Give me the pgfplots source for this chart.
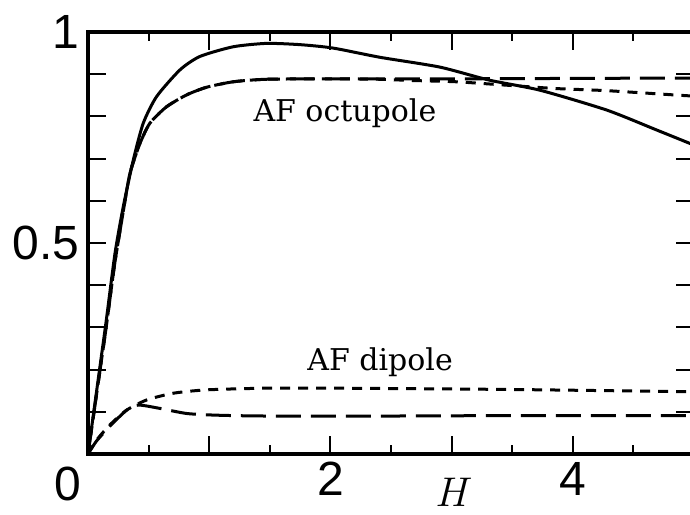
\documentclass[border=0pt]{standalone}
\usepackage{fontspec}
\setmainfont{DejaVu Serif}
\newfontfamily\ticksans{Liberation Sans}
\usepackage{pgfplots}
\pgfplotsset{compat=1.18}

% octupole (solid / long dash / short dash) and dipole (long dash / short dash)
\pgfplotstableread{
x y
0 0
0.05 0.105
0.10 0.21
0.15 0.315
0.223 0.476
0.291 0.586
0.374 0.697
0.456 0.784
0.566 0.847
0.758 0.910
0.923 0.942
1.198 0.965
1.473 0.973
1.75 0.970
2.02 0.962
2.41 0.940
2.90 0.917
3.31 0.886
3.73 0.862
4.28 0.815
4.69 0.768
5.00 0.732
}\octsolid
\pgfplotstableread{
x y
0 0
0.05 0.10
0.10 0.20
0.15 0.30
0.22 0.45
0.291 0.575
0.346 0.665
0.429 0.736
0.511 0.784
0.649 0.823
0.814 0.851
0.978 0.869
1.198 0.882
1.473 0.888
2.02 0.889
3.00 0.889
4.00 0.890
5.00 0.891
}\octlong
\pgfplotstableread{
x y
0 0
0.05 0.10
0.10 0.20
0.15 0.30
0.22 0.45
0.291 0.575
0.346 0.665
0.429 0.736
0.511 0.784
0.649 0.823
0.814 0.851
0.978 0.869
1.198 0.882
1.473 0.888
2.02 0.889
2.40 0.888
2.68 0.885
3.04 0.882
3.45 0.874
3.86 0.866
4.28 0.861
4.83 0.851
5.00 0.848
}\octshort
\pgfplotstableread{
x y
0 0
0.071 0.031
0.181 0.066
0.319 0.104
0.415 0.116
0.594 0.108
0.814 0.096
1.06 0.092
1.473 0.090
2.50 0.090
3.50 0.091
5.00 0.091
}\diplong
\pgfplotstableread{
x y
0 0
0.071 0.033
0.181 0.069
0.319 0.104
0.484 0.128
0.703 0.144
0.978 0.152
1.473 0.156
2.02 0.156
3.45 0.153
4.83 0.148
5.00 0.147
}\dipshort

\begin{document}
\begin{tikzpicture}
\begin{axis}[
    at={(0,0)}, anchor=south west,
    scale only axis,
    width=303pt, height=211pt,
    xmin=0, xmax=5, ymin=0, ymax=1,
    clip mode=individual,
    axis line style={line width=1.8pt},
    xtick={0,1,2,3,4,5},
    xticklabels={,,2,,4,},
    minor xtick={0.5,1.5,2.5,3.5,4.5},
    ytick={0,0.1,0.2,0.3,0.4,0.5,0.6,0.7,0.8,0.9,1},
    yticklabels={,,,,,0.5,,,,,1},
    major tick length=9pt,
    minor tick length=4.5pt,
    every tick/.style={black, line width=1pt},
    ticklabel style={font=\ticksans\fontsize{24}{26}\selectfont, inner sep=0pt},
    xticklabel style={anchor=north, yshift=-4pt},
    yticklabel style={anchor=east, xshift=-4pt},
    every axis plot/.append style={black, line width=1.5pt, smooth, tension=0.4},
]
\addplot[solid] table {\octsolid};
\addplot[dash pattern=on 12.5pt off 5pt] table {\octlong};
\addplot[dash pattern=on 5pt off 4pt] table {\octshort};
\addplot[dash pattern=on 12.5pt off 5pt] table {\diplong};
\addplot[dash pattern=on 5pt off 4pt] table {\dipshort};

\node[anchor=base, font=\fontsize{15}{18}\selectfont] at (axis cs:2.12,0.787) {AF octupole};
\node[anchor=base, font=\fontsize{15}{18}\selectfont] at (axis cs:2.41,0.199) {AF dipole};
\node[anchor=north east, inner sep=0pt, font=\ticksans\fontsize{24}{26}\selectfont,
      xshift=-3pt, yshift=-6.5pt] at (axis cs:0,0) {0};
\node[anchor=north, inner sep=0pt, yshift=-12pt, font=\fontsize{20}{24}\selectfont]
      at (axis cs:3.02,0) {$H$};
\end{axis}
\pgfresetboundingbox
\path (-44pt,-30pt) rectangle (301pt,227pt);
\end{tikzpicture}
\end{document}
